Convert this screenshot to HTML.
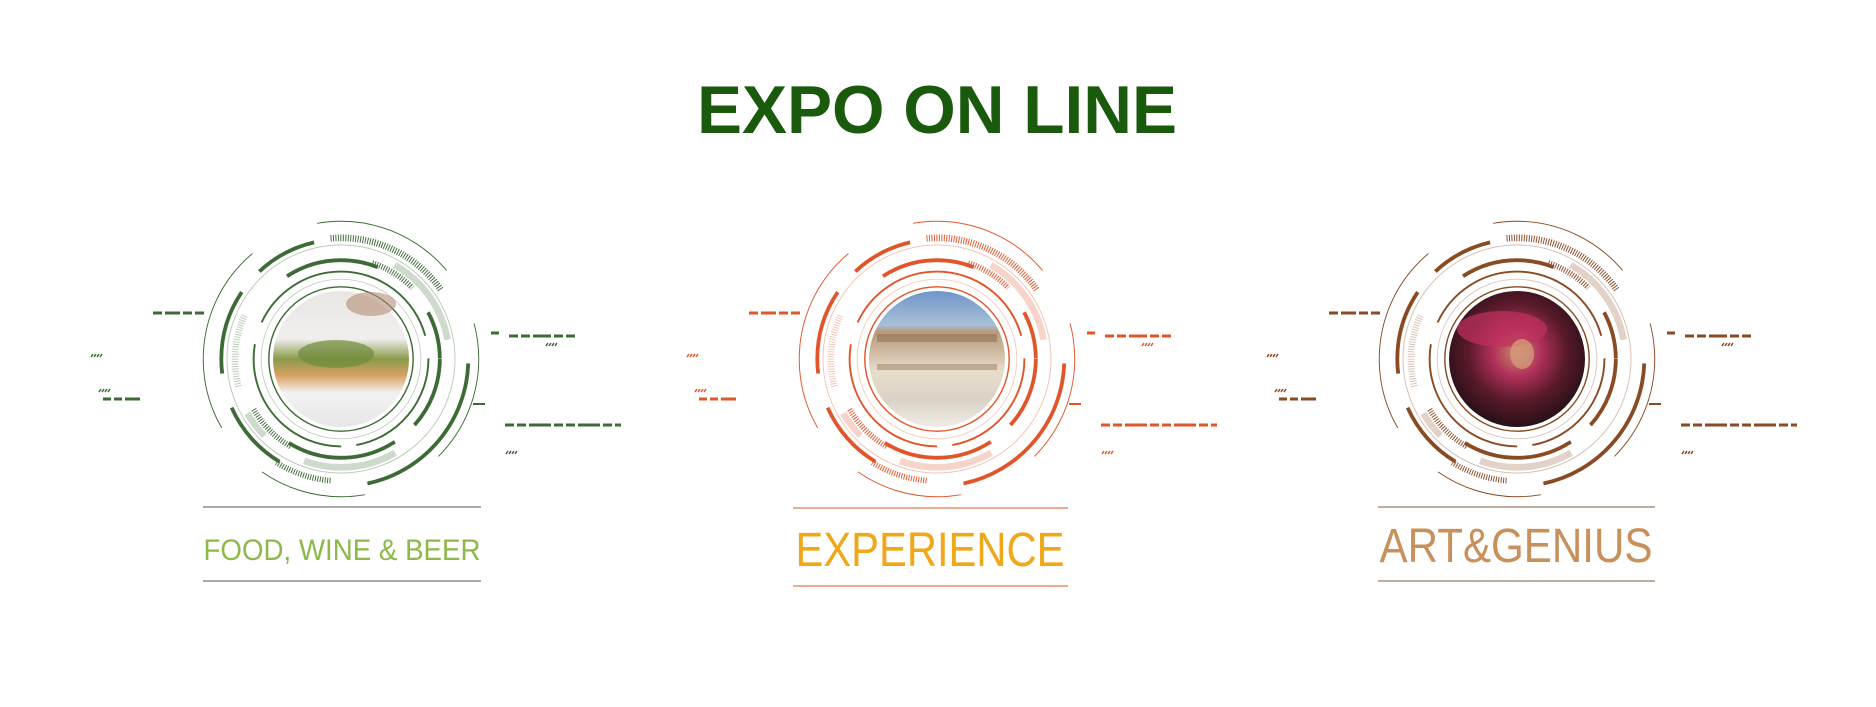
<!DOCTYPE html>
<html><head><meta charset="utf-8"><style>
html,body{margin:0;padding:0;background:#fff;width:1876px;height:707px;overflow:hidden}
svg{display:block}
.t{font-family:"Liberation Sans",sans-serif}
</style></head><body>
<svg width="1876" height="707" viewBox="0 0 1876 707" xmlns="http://www.w3.org/2000/svg">
<defs>
<linearGradient id="food" x1="0" y1="0" x2="0" y2="1">
<stop offset="0" stop-color="#e9e6e4"/><stop offset=".35" stop-color="#f1efee"/><stop offset=".5" stop-color="#8a9a4a"/><stop offset=".62" stop-color="#d8a060"/><stop offset=".75" stop-color="#f3f2f2"/><stop offset="1" stop-color="#e8e6e8"/></linearGradient>
<linearGradient id="bld" x1="0" y1="0" x2="0" y2="1">
<stop offset="0" stop-color="#6f95c8"/><stop offset=".25" stop-color="#a9bfd8"/><stop offset=".3" stop-color="#b99a7a"/><stop offset=".6" stop-color="#e8ddcc"/><stop offset=".8" stop-color="#d9d2c6"/><stop offset="1" stop-color="#f0ece6"/></linearGradient>
<radialGradient id="wom" cx=".5" cy=".45" r=".6">
<stop offset="0" stop-color="#c98a6a"/><stop offset=".3" stop-color="#b0305a"/><stop offset=".6" stop-color="#5a1a2a"/><stop offset="1" stop-color="#1a0e12"/></radialGradient>
<g id="ring" fill="none" stroke="currentColor">
<circle r="76" stroke-width="1.5"/>
<circle r="84" stroke-width="1" opacity=".3"/>
<circle r="92" stroke-width="2" pathLength="360" stroke-dasharray="80 10 100 15 140 15"/>
<circle r="104" stroke-width="4" pathLength="360" stroke-dasharray="42 15 65 115 55 40 28"/>
<circle r="114" stroke-width="7" opacity=".25" pathLength="360" stroke-dasharray="0 60 50 25 15 150 50 10"/>
<circle r="120" stroke-width="1" opacity=".35"/>
<circle r="126" stroke-width="4" pathLength="360" stroke-dasharray="0 121 35 17 41 13 30 103"/>
<circle r="134" stroke-width="4" pathLength="360" stroke-dasharray="0 2 76 282"/>
<circle r="145" stroke-width="1" pathLength="360" stroke-dasharray="45 35 45 25 80 30 60 25 15"/>
<path d="M -11 -127 A 128 128 0 0 1 105 -73" stroke-width="7" stroke-dasharray="1 1.6"/>
<path d="M 33 -101 A 106 106 0 0 1 75 -75" stroke-width="6" stroke-dasharray="1 1.6"/>
<path d="M -53 92 A 106 106 0 0 1 -92 53" stroke-width="6" stroke-dasharray="1 1.6"/>
<path d="M -11 128 A 128 128 0 0 1 -68 109" stroke-width="6" stroke-dasharray="1 1.6"/>
<path d="M -108 29 A 112 112 0 0 1 -101 -47" stroke-width="7" opacity=".35" stroke-dasharray="1 1.6"/>
</g>
<g id="side" fill="none" stroke="currentColor">
<path d="M -188 -46 H -133" stroke-width="3" stroke-dasharray="9 3 15 3 9 3 9"/>
<path d="M -238 40 H -201" stroke-width="3" stroke-dasharray="8 3 8 3 15"/>
<path d="M 150 -26 H 158" stroke-width="3"/>
<path d="M 168 -23 H 235" stroke-width="3" stroke-dasharray="9 3 9 3 18 3 9 3 9"/>
<path d="M 132 45 H 144" stroke-width="2"/>
<path d="M 164 66 H 280" stroke-width="3" stroke-dasharray="9 3 9 3 22 3 9 3 9 3 22 3 9 3 9"/>
</g>
<g id="slash" fill="none" stroke="currentColor" stroke-width="1.5">
<path d="M0 3 L2 0 M3 3 L5 0 M6 3 L8 0 M9 3 L11 0"/>
</g>
</defs>

<text x="937" y="133" text-anchor="middle" class="t" font-size="68" font-weight="bold" fill="#1a5a0c" textLength="480" lengthAdjust="spacingAndGlyphs">EXPO ON LINE</text>

<g transform="translate(341,359)" style="color:#3d6b35">
<g transform="scale(0.95)"><use href="#ring"/></g>
<use href="#side"/>
<use href="#slash" x="-250" y="-5"/><use href="#slash" x="-242" y="30"/>
<use href="#slash" x="205" y="-16"/><use href="#slash" x="165" y="92"/>
<circle r="68" fill="url(#food)"/>
<ellipse cx="-5" cy="-5" rx="38" ry="14" fill="#6f8a3a" opacity=".7"/>
<ellipse cx="30" cy="-55" rx="25" ry="12" fill="#b58c74" opacity=".6"/>
</g>
<line x1="203" y1="507" x2="481" y2="507" stroke="#777" stroke-width="1.3"/>
<line x1="203" y1="581" x2="481" y2="581" stroke="#777" stroke-width="1.3"/>
<text x="342" y="560" text-anchor="middle" class="t" font-size="30" fill="#8db84a" textLength="277" lengthAdjust="spacingAndGlyphs">FOOD, WINE &amp; BEER</text>

<g transform="translate(937,359)" style="color:#e0552a">
<g transform="scale(0.95)"><use href="#ring"/></g>
<use href="#side"/>
<use href="#slash" x="-250" y="-5"/><use href="#slash" x="-242" y="30"/>
<use href="#slash" x="205" y="-16"/><use href="#slash" x="165" y="92"/>
<circle r="68" fill="url(#bld)"/>
<rect x="-60" y="-25" width="120" height="8" fill="#8a6a52" opacity=".5"/>
<rect x="-60" y="5" width="120" height="6" fill="#8a6a52" opacity=".4"/>
</g>
<line x1="793" y1="508" x2="1068" y2="508" stroke="#e07a55" stroke-width="1.3"/>
<line x1="793" y1="586" x2="1068" y2="586" stroke="#e07a55" stroke-width="1.3"/>
<text x="930" y="566" text-anchor="middle" class="t" font-size="48" fill="#f0a718" textLength="269" lengthAdjust="spacingAndGlyphs">EXPERIENCE</text>

<g transform="translate(1517,359)" style="color:#8a4a22">
<g transform="scale(0.95)"><use href="#ring"/></g>
<use href="#side"/>
<use href="#slash" x="-250" y="-5"/><use href="#slash" x="-242" y="30"/>
<use href="#slash" x="205" y="-16"/><use href="#slash" x="165" y="92"/>
<circle r="68" fill="url(#wom)"/>
<ellipse cx="-15" cy="-30" rx="45" ry="18" fill="#c0305e" opacity=".7"/>
<ellipse cx="5" cy="-5" rx="12" ry="15" fill="#d49a7a" opacity=".8"/>
</g>
<line x1="1378" y1="507" x2="1655" y2="507" stroke="#9a7a60" stroke-width="1.3"/>
<line x1="1378" y1="581" x2="1655" y2="581" stroke="#9a7a60" stroke-width="1.3"/>
<text x="1516" y="562" text-anchor="middle" class="t" font-size="48" fill="#c8905a" textLength="273" lengthAdjust="spacingAndGlyphs">ART&amp;GENIUS</text>
</svg>
</body></html>
